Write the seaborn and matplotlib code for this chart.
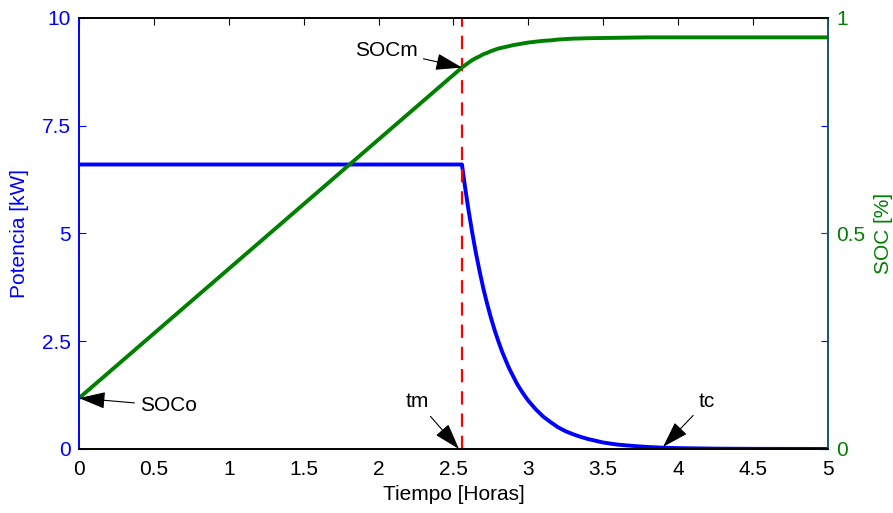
import matplotlib
matplotlib.use("Agg")
import matplotlib.pyplot as plt
import seaborn as sns
import pandas as pd

sns.set_theme(style="white")
plt.rcParams['font.family'] = ['Liberation Sans', 'DejaVu Sans']
plt.rcParams['text.color'] = 'black'

# ---- data ----
t_pow = [0.0, 2.557, 2.58, 2.6, 2.625, 2.65, 2.675, 2.7, 2.725, 2.75, 2.775, 2.8, 2.825,
         2.85, 2.875, 2.9, 2.925, 2.95, 2.975, 3.0, 3.05, 3.1, 3.15, 3.2, 3.25, 3.3,
         3.35, 3.4, 3.45, 3.5, 3.55, 3.6, 3.7, 3.8, 3.9, 4.0, 4.25, 4.5, 5.0]
potencia = [6.6, 6.6, 6.02, 5.56, 5.03, 4.55, 4.12, 3.72, 3.37, 3.05, 2.76, 2.50, 2.26,
            2.05, 1.85, 1.68, 1.51, 1.37, 1.24, 1.12, 0.92, 0.75, 0.62, 0.50, 0.41, 0.34,
            0.28, 0.23, 0.19, 0.15, 0.124, 0.10, 0.07, 0.046, 0.03, 0.02, 0.008, 0.003, 0.0]

t_soc = [0.0, 0.5, 1.0, 1.5, 2.0, 2.557, 2.58, 2.6, 2.625, 2.65, 2.675, 2.7, 2.725,
         2.75, 2.775, 2.8, 2.825, 2.85, 2.875, 2.9, 2.95, 3.0, 3.05, 3.1, 3.15, 3.2,
         3.3, 3.4, 3.5, 3.6, 3.8, 4.0, 4.5, 5.0]
soc = [0.118, 0.268, 0.418, 0.568, 0.718, 0.885, 0.891, 0.896, 0.902, 0.907, 0.911,
       0.916, 0.919, 0.923, 0.926, 0.929, 0.931, 0.933, 0.935, 0.937, 0.940, 0.943,
       0.945, 0.947, 0.948, 0.950, 0.952, 0.953, 0.9535, 0.954, 0.955, 0.955, 0.955, 0.955]

tm = 2.557
tc = 3.9
x_ticks = [0, 0.5, 1, 1.5, 2, 2.5, 3, 3.5, 4, 4.5, 5]
x_labels = ['0', '0.5', '1', '1.5', '2', '2.5', '3', '3.5', '4', '4.5', '5']
p_ticks = [0, 2.5, 5, 7.5, 10]
p_labels = ['0', '2.5', '5', '7.5', '10']
s_ticks = [0, 0.5, 1]
s_labels = ['0', '0.5', '1']

df_p = pd.DataFrame({'t': t_pow, 'p': potencia})
df_s = pd.DataFrame({'t': t_soc, 's': soc})

BLUE = '#0000ff'
GREEN = '#008000'
RIGHT_SPINE = '#1a5566'

fig = plt.figure(figsize=(8.93, 5.13), dpi=100)
ax = fig.add_axes([0.0885, 0.1248, 0.8385, 0.8402])
ax2 = ax.twinx()

sns.lineplot(data=df_p, x='t', y='p', ax=ax, color=BLUE, linewidth=2.8)
sns.lineplot(data=df_s, x='t', y='s', ax=ax2, color=GREEN, linewidth=2.8)

ax.axvline(tm, color='red', linestyle=(0, (6, 4)), linewidth=1.6, zorder=5)

ax.set_xlim(0, 5)
ax.set_ylim(0, 10)
ax2.set_ylim(0, 1)
ax.set_xticks(x_ticks)
ax.set_xticklabels(x_labels)
ax.set_yticks(p_ticks)
ax.set_yticklabels(p_labels)
ax2.set_yticks(s_ticks)
ax2.set_yticklabels(s_labels)

fs = 15
ax.tick_params(axis='x', direction='in', length=5, width=0.8, colors='black',
               labelsize=fs, top=True, pad=8)
ax.tick_params(axis='y', direction='in', length=5, width=0.8, colors=BLUE,
               labelsize=fs, right=True, left=True, labelright=False, pad=6)
ax2.tick_params(axis='y', direction='in', length=5, width=0.8, colors=GREEN,
                labelsize=fs, pad=6)

ax.set_xlabel('Tiempo [Horas]', fontsize=fs, color='black', labelpad=4)
ax.set_ylabel('Potencia [kW]', fontsize=fs, color=BLUE, labelpad=9)
ax2.set_ylabel('SOC [%]', fontsize=fs, color=GREEN, labelpad=6)

for a in (ax, ax2):
    for s in a.spines.values():
        s.set_linewidth(1.2)
ax.spines['left'].set_color(BLUE)
ax.spines['bottom'].set_color('black')
ax.spines['top'].set_color('black')
ax.spines['right'].set_color(RIGHT_SPINE)
ax2.spines['left'].set_color(BLUE)
ax2.spines['right'].set_color(RIGHT_SPINE)
ax2.spines['top'].set_color('black')
ax2.spines['bottom'].set_color('black')

arrow = dict(arrowstyle='-|>,head_length=1.1,head_width=0.35', color='black',
             lw=0.8, shrinkA=2, shrinkB=0)
afs = 15
ax2.annotate('SOCm', xy=(tm, soc[5]), xytext=(2.26, 0.925), ha='right', va='center',
             fontsize=afs, color='black', arrowprops=arrow, zorder=10)
ax2.annotate('SOCo', xy=(0, soc[0]), xytext=(0.41, 0.1), ha='left', va='center',
             fontsize=afs, color='black', arrowprops=arrow, zorder=10)
ax.annotate('tm', xy=(tm - 0.02, 0.0), xytext=(2.26, 1.1), ha='center', va='center',
            fontsize=afs, color='black', arrowprops=arrow, zorder=10)
ax.annotate('tc', xy=(tc, 0.05), xytext=(4.19, 1.1), ha='center', va='center',
            fontsize=afs, color='black', arrowprops=arrow, zorder=10)

for a in (ax, ax2):
    a.grid(False)
    a.set_facecolor('none')
fig.patch.set_facecolor('white')

fig.savefig('out.png', dpi=100)
